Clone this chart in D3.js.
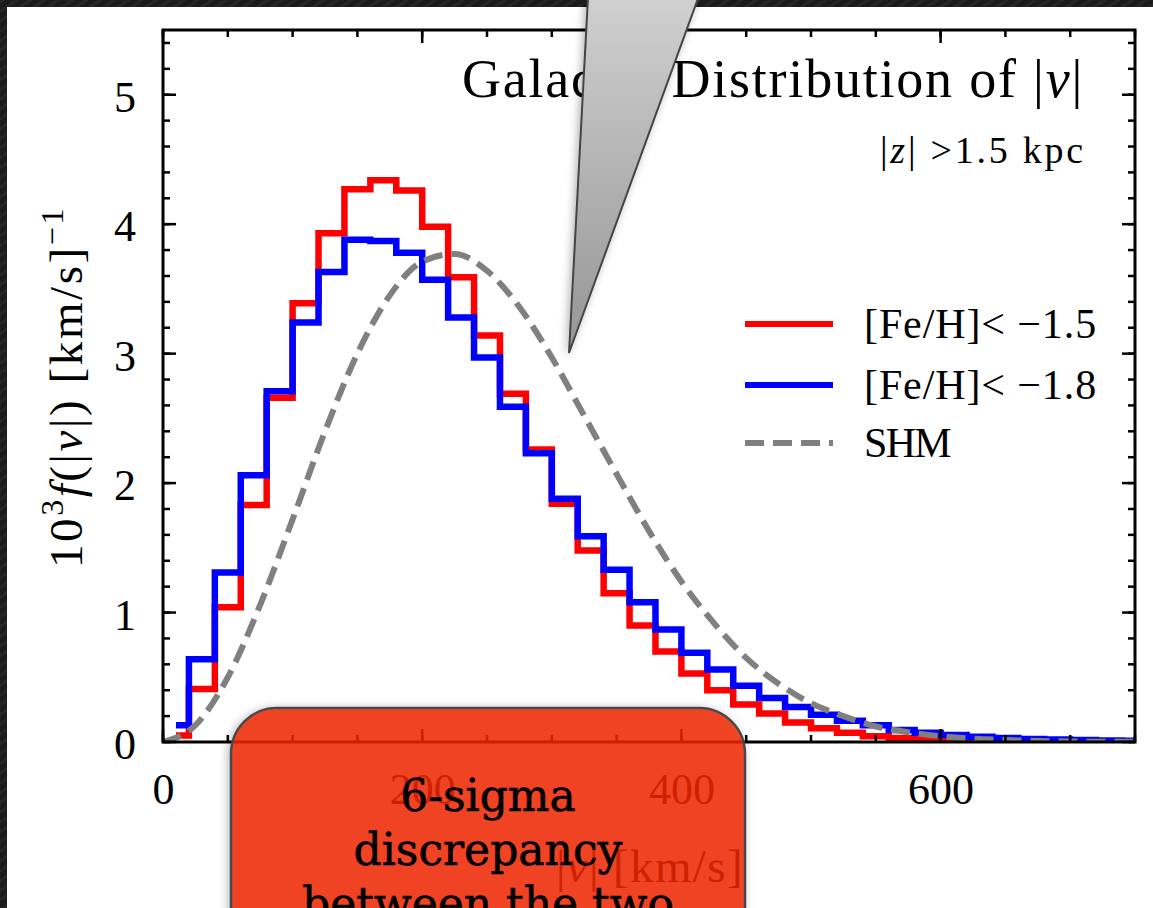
<!DOCTYPE html>
<html>
<head>
<meta charset="utf-8">
<script src="https://cdn.jsdelivr.net/npm/d3@7"></script>
<style>
  html, body { margin: 0; padding: 0; background: #181818; }
  svg { display: block; }
</style>
</head>
<body>
<svg id="chart" width="1153" height="908"></svg>
<script>
// Speed distribution of halo stars, binned in 20 km/s steps (bin centres)
const binCenters = [10, 30, 50, 70, 90, 110, 130, 150, 170, 190, 210, 230, 250, 270, 290,
  310, 330, 350, 370, 390, 410, 430, 450, 470, 490, 510, 530, 550, 570, 590, 610, 630,
  650, 670, 690, 710, 730, 750];
// [Fe/H] < -1.5
const metalPoor15 = [0.05, 0.41, 1.04, 1.83, 2.66, 3.39, 3.93, 4.27, 4.34, 4.26, 3.98, 3.59,
  3.14, 2.69, 2.26, 1.84, 1.48, 1.15, 0.90, 0.70, 0.53, 0.40, 0.29, 0.22, 0.15, 0.106, 0.072,
  0.045, 0.03, 0.024, 0.02, 0.016, 0.012, 0.009, 0.007, 0.005, 0.004, 0.003];
// [Fe/H] < -1.8
const metalPoor18 = [0.13, 0.64, 1.31, 2.06, 2.71, 3.24, 3.63, 3.88, 3.87, 3.78, 3.57, 3.28,
  2.97, 2.59, 2.23, 1.88, 1.59, 1.33, 1.08, 0.87, 0.69, 0.56, 0.435, 0.34, 0.27, 0.21, 0.165,
  0.13, 0.093, 0.072, 0.054, 0.04, 0.03, 0.024, 0.019, 0.015, 0.012, 0.01];
// Standard Halo Model curve
const shmSpeed = [0, 25, 50, 75, 100, 125, 150, 175, 200, 225, 250, 275, 300, 325, 350, 375,
  400, 425, 450, 475, 500, 525, 550, 575, 600, 625, 650, 675, 700, 725, 750];
const shmValue = [0, 0.13, 0.50, 1.06, 1.72, 2.40, 3.00, 3.45, 3.71, 3.77, 3.64, 3.36, 2.97,
  2.52, 2.07, 1.63, 1.24, 0.92, 0.65, 0.45, 0.30, 0.20, 0.12, 0.076, 0.045, 0.026, 0.015,
  0.008, 0.004, 0.002, 0.001];

const xMajor = [0, 200, 400, 600];
const yMajor = [0, 1, 2, 3, 4, 5];
const legendLabels = ["[Fe/H]< \u22121.5", "[Fe/H]< \u22121.8", "SHM"];
const noteLines = ["6-sigma", "discrepancy", "between the two"];

const W = 1153, H = 908;
const svg = d3.select("#chart");
const defs = svg.append("defs");
const serif = "'Liberation Serif', 'DejaVu Serif', serif";

// spread a text's glyphs so the whole string spans a given width
function fitWidth(textSel, target) {
  const node = textSel.node();
  const n = node.textContent.length;
  const w = node.getComputedTextLength();
  if (n > 1) textSel.attr("letter-spacing", ((target - w) / n).toFixed(2));
}

// carbon-ish backdrop texture
const pat = defs.append("pattern").attr("id", "weave").attr("patternUnits", "userSpaceOnUse")
  .attr("width", 8).attr("height", 8).attr("patternTransform", "rotate(-35)");
pat.append("rect").attr("width", 8).attr("height", 8).attr("fill", "#1b1b1b");
pat.append("rect").attr("width", 8).attr("height", 3).attr("fill", "#262626");

const shadow = defs.append("filter").attr("id", "soft").attr("x", "-20%").attr("y", "-20%")
  .attr("width", "140%").attr("height", "140%");
shadow.append("feDropShadow").attr("dx", -2).attr("dy", 1).attr("stdDeviation", 4)
  .attr("flood-color", "#000").attr("flood-opacity", 0.3);

const grad = defs.append("linearGradient").attr("id", "wedgeFill")
  .attr("x1", 0).attr("y1", 0).attr("x2", 0).attr("y2", 1);
grad.append("stop").attr("offset", "0%").attr("stop-color", "#d6d6d6");
grad.append("stop").attr("offset", "100%").attr("stop-color", "#959595");

svg.append("rect").attr("width", W).attr("height", H).attr("fill", "url(#weave)");
svg.append("rect").attr("x", 7).attr("y", 7).attr("width", W - 7).attr("height", H - 7)
  .attr("fill", "#fff");

// plot area
const pLeft = 163, pRight = 1135, pTop = 30, pBottom = 742;
const x = d3.scaleLinear().domain([0, 750]).range([pLeft, pRight]);
const y = d3.scaleLinear().domain([0, 5.5]).range([pBottom, pTop]);

defs.append("clipPath").attr("id", "plotClip").append("rect")
  .attr("x", pLeft).attr("y", pTop).attr("width", pRight - pLeft).attr("height", pBottom - pTop);

const plot = svg.append("g").attr("clip-path", "url(#plotClip)");

const step = d3.line().x(d => x(d[0])).y(d => y(d[1])).curve(d3.curveStep);
plot.append("path").datum(d3.zip(binCenters, metalPoor15)).attr("d", step)
  .attr("fill", "none").attr("stroke", "#ff0000").attr("stroke-width", 6.5);
plot.append("path").datum(d3.zip(binCenters, metalPoor18)).attr("d", step)
  .attr("fill", "none").attr("stroke", "#0000ff").attr("stroke-width", 6.5);

const smooth = d3.line().x(d => x(d[0])).y(d => y(d[1])).curve(d3.curveMonotoneX);
plot.append("path").datum(d3.zip(shmSpeed, shmValue)).attr("d", smooth)
  .attr("fill", "none").attr("stroke", "#808080").attr("stroke-width", 6)
  .attr("stroke-dasharray", "19,9");

// axes: ticks point inward on all four sides
const xMinor = d3.range(0, 751, 50);
const yMinor = d3.range(0, 5.51, 0.2).map(v => +v.toFixed(2));
const axG = svg.append("g").attr("stroke", "#000");
function tickMarks(g, values, scale, pos, len, horizontal, dir) {
  g.selectAll(null).data(values).enter().append("line")
    .attr("x1", d => horizontal ? scale(d) : pos)
    .attr("x2", d => horizontal ? scale(d) : pos + dir * len)
    .attr("y1", d => horizontal ? pos : scale(d))
    .attr("y2", d => horizontal ? pos + dir * len : scale(d))
    .attr("stroke-width", 2.5);
}
tickMarks(axG, xMinor, x, pBottom, 7, true, -1);
tickMarks(axG, xMajor, x, pBottom, 13, true, -1);
tickMarks(axG, xMinor, x, pTop, 7, true, 1);
tickMarks(axG, xMajor, x, pTop, 13, true, 1);
tickMarks(axG, yMinor, y, pLeft, 7, false, 1);
tickMarks(axG, yMajor, y, pLeft, 13, false, 1);
tickMarks(axG, yMinor, y, pRight, 7, false, -1);
tickMarks(axG, yMajor, y, pRight, 13, false, -1);
axG.append("rect").attr("x", pLeft).attr("y", pTop).attr("width", pRight - pLeft)
  .attr("height", pBottom - pTop).attr("fill", "none").attr("stroke-width", 3);

const xAxis = d3.axisBottom(x).tickValues(xMajor).tickFormat(d3.format("d"))
  .tickSize(0).tickPadding(0);
svg.append("g").attr("transform", `translate(0,${pBottom})`).call(xAxis)
  .call(g => g.select(".domain").remove())
  .selectAll("text").attr("font-family", serif).attr("font-size", 44).attr("fill", "#000")
  .attr("dy", null).attr("y", 62);
const yAxis = d3.axisLeft(y).tickValues(yMajor).tickFormat(d3.format("d"))
  .tickSize(0).tickPadding(27);
svg.append("g").attr("transform", `translate(${pLeft},0)`).call(yAxis)
  .call(g => g.select(".domain").remove())
  .selectAll("text").attr("font-family", serif).attr("font-size", 44).attr("fill", "#000")
  .attr("dy", "0.38em");

// title and subtitle
const title = svg.append("text").attr("x", 1084).attr("y", 97).attr("text-anchor", "end")
  .attr("font-family", serif).attr("font-size", 54).attr("fill", "#000");
title.append("tspan").text("Galactic Distribution of |");
title.append("tspan").attr("font-style", "italic").text("v");
title.append("tspan").text("|");
fitWidth(title, 622);

const sub = svg.append("text").attr("x", 1086).attr("y", 163).attr("text-anchor", "end")
  .attr("font-family", serif).attr("font-size", 38).attr("fill", "#000");
sub.append("tspan").text("|");
sub.append("tspan").attr("font-style", "italic").text("z");
sub.append("tspan").text("| >1.5 kpc");
fitWidth(sub, 206);

// axis labels
const yl = svg.append("text").attr("transform", "translate(82,387) rotate(-90)")
  .attr("text-anchor", "middle").attr("font-family", serif).attr("font-size", 47)
  .attr("fill", "#000");
yl.append("tspan").text("10");
yl.append("tspan").attr("font-size", 32).attr("dy", -19).text("3");
yl.append("tspan").attr("dy", 19).attr("font-style", "italic").text("f");
yl.append("tspan").text("(|");
yl.append("tspan").attr("font-style", "italic").text("v");
yl.append("tspan").text("|) [km/s]");
yl.append("tspan").attr("font-size", 32).attr("dy", -19).text("\u22121");
fitWidth(yl, 362);

const xl = svg.append("text").attr("x", 650).attr("y", 882).attr("text-anchor", "middle")
  .attr("font-family", serif).attr("font-size", 47).attr("fill", "#000");
xl.append("tspan").text("|");
xl.append("tspan").attr("font-style", "italic").text("v");
xl.append("tspan").text("| [km/s]");
fitWidth(xl, 188);

// legend
const legColors = ["#ff0000", "#0000ff", "#808080"];
const legY = [324, 385, 443];
const leg = svg.append("g");
const legWidths = [233, 233, 86];
legendLabels.forEach((t, i) => {
  leg.append("line").attr("x1", 745).attr("x2", 833).attr("y1", legY[i]).attr("y2", legY[i])
    .attr("stroke", legColors[i]).attr("stroke-width", 6)
    .attr("stroke-dasharray", i === 2 ? "19,9" : null);
  const lt = leg.append("text").attr("x", 864).attr("y", legY[i] + 14).attr("font-family", serif)
    .attr("font-size", 42).attr("fill", "#000").text(t);
  fitWidth(lt, legWidths[i]);
});

// callout pointer coming down from above
svg.append("path")
  .attr("d", d3.line()([[590, -40], [712, -40], [569, 353]]) + "Z")
  .attr("fill", "url(#wedgeFill)").attr("stroke", "#454545").attr("stroke-width", 2)
  .attr("filter", "url(#soft)");

// annotation box
svg.append("rect").attr("x", 231).attr("y", 708).attr("width", 514).attr("height", 260)
  .attr("rx", 46).attr("ry", 46).attr("fill", "#f22800").attr("fill-opacity", 0.82)
  .attr("stroke", "#4a4a4a").attr("stroke-width", 2.5).attr("filter", "url(#soft)");
const note = svg.append("text").attr("text-anchor", "middle")
  .attr("font-family", "'DejaVu Serif', serif").attr("font-size", 44).attr("fill", "#000")
  .attr("stroke", "#000").attr("stroke-width", 0.6);
noteLines.forEach((t, i) => {
  note.append("tspan").attr("x", 488).attr("y", 811 + i * 54).text(t);
});
</script>
</body>
</html>
